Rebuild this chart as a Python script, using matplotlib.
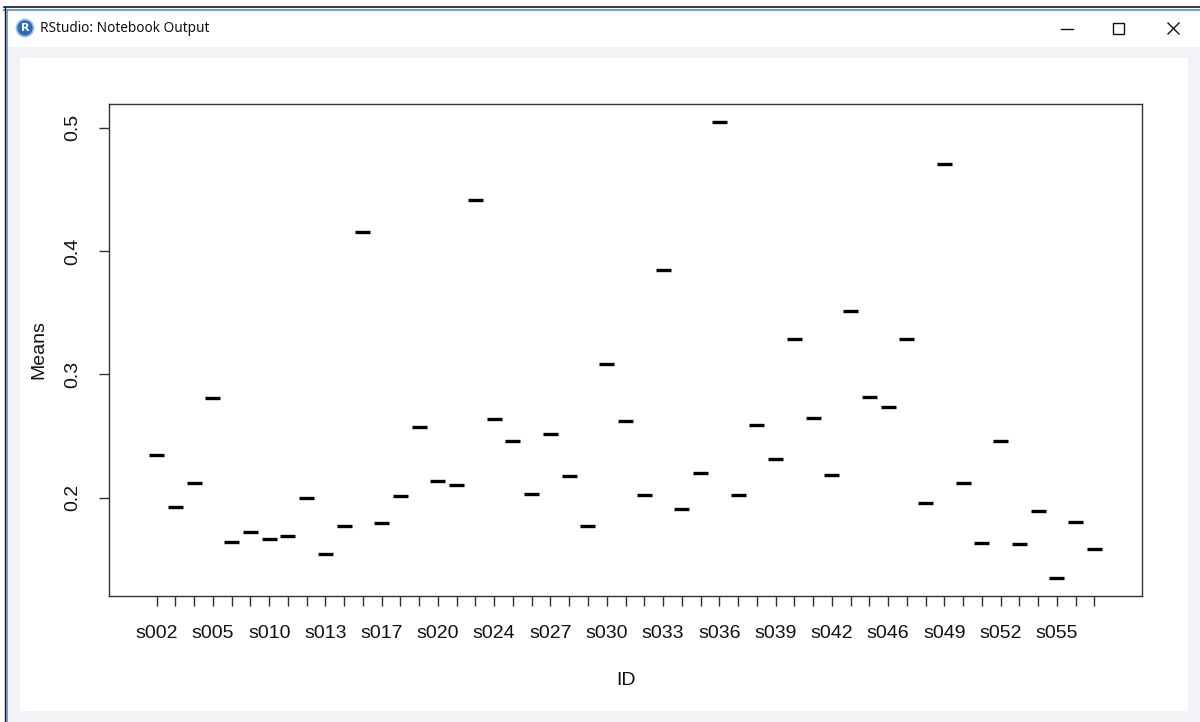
import matplotlib
matplotlib.use("Agg")
import matplotlib.pyplot as plt
from matplotlib.patches import Rectangle, Circle
from matplotlib.lines import Line2D
import numpy as np

# ---- data ----
ids = ["s002", "s003", "s004", "s005", "s006", "s008", "s010", "s011", "s012",
       "s013", "s014", "s016", "s017", "s018", "s019", "s020", "s021", "s023",
       "s024", "s025", "s026", "s027", "s028", "s029", "s030", "s031", "s032",
       "s033", "s034", "s035", "s036", "s037", "s038", "s039", "s040", "s041",
       "s042", "s043", "s045", "s046", "s047", "s048", "s049", "s050", "s051",
       "s052", "s053", "s054", "s055", "s056", "s057"]
means = [0.2349, 0.1922, 0.2119, 0.2805, 0.1643, 0.1724, 0.1662, 0.1689, 0.1995,
         0.1541, 0.1770, 0.4151, 0.1795, 0.2011, 0.2573, 0.2138, 0.2100, 0.4414,
         0.2635, 0.2459, 0.2027, 0.2519, 0.2178, 0.1770, 0.3081, 0.2619, 0.2019,
         0.3849, 0.1905, 0.2197, 0.5043, 0.2019, 0.2592, 0.2314, 0.3286, 0.2646,
         0.2186, 0.3511, 0.2816, 0.2732, 0.3286, 0.1957, 0.4705, 0.2119, 0.1635,
         0.2459, 0.1627, 0.1895, 0.1351, 0.1805, 0.1581]
y_ticks = [0.2, 0.3, 0.4, 0.5]
x_label = "ID"
y_label = "Means"
window_title = "RStudio: Notebook Output"

W, H = 1200, 722
fig = plt.figure(figsize=(W / 100, H / 100), dpi=100, facecolor="white")


def fx(px):
    return px / W


def fy(py):
    return 1 - py / H


def rect(x0, y0, x1, y1, z=-5, **kw):
    fig.add_artist(Rectangle((fx(x0), fy(y1)), fx(x1) - fx(x0), fy(y0) - fy(y1),
                             transform=fig.transFigure, zorder=z, **kw))


def line(xs, ys, **kw):
    fig.add_artist(Line2D([fx(x) for x in xs], [fy(y) for y in ys],
                          transform=fig.transFigure, zorder=-4, **kw))


# window chrome
rect(5, 47, W, H, facecolor="#f2f3f6", edgecolor="none", z=-6)
rect(20, 58, 1188, 711, facecolor="white", edgecolor="none", z=-5)
line([4, W], [7, 7], color="#1a1a1a", lw=1.2)
line([4, W], [10, 10], color="#6f9fd0", lw=1.5)
line([4.5, 4.5], [7, H], color="#1a1a1a", lw=1.0)
line([6.5, 6.5], [10, H], color="#5a8fd0", lw=1.2)

# R icon
fig.add_artist(Circle((25 / 100, (H - 28) / 100), 0.085, transform=fig.dpi_scale_trans,
                      facecolor="#2d6cb8", edgecolor="#9cc0e6", lw=1.2, zorder=-3))
fig.text(fx(25), fy(28), "R", color="white", fontsize=8, fontweight="bold",
         ha="center", va="center", family="DejaVu Sans")
fig.text(fx(40), fy(28), window_title, fontsize=9.8, ha="left", va="center",
         family="Noto Sans", color="#111111")
# window controls
line([1061, 1073], [29, 29], color="#111111", lw=1.0)
rect(1113, 23, 1124, 34, z=-3, facecolor="none", edgecolor="#111111", lw=1.0)
line([1168, 1179], [23, 34], color="#111111", lw=1.0)
line([1168, 1179], [34, 23], color="#111111", lw=1.0)

# ---- plot ----
plt.rcParams["font.family"] = ["Liberation Sans", "DejaVu Sans"]
ax_l, ax_r, ax_t, ax_b = 109, 1142, 104, 596
ax = fig.add_axes([fx(ax_l), fy(ax_b), fx(ax_r) - fx(ax_l), fy(ax_t) - fy(ax_b)])
ax.set_zorder(5)
ax.set_facecolor("white")

x = np.arange(len(means))
ax.hlines(means, x - 0.4, x + 0.4, colors="black", linewidth=2.4, capstyle="butt")

n = len(means)
ax.set_xlim(-0.5 - 0.04 * n, n - 0.5 + 0.04 * n)
rng = max(means) - min(means)
ax.set_ylim(min(means) - 0.04 * rng, max(means) + 0.04 * rng)

ax.set_xticks(x)
ax.set_xticklabels(ids, fontsize=14, color="#111111")
for i, lab in enumerate(ax.get_xticklabels()):
    lab.set_visible(i % 3 == 0)
ax.set_yticks(y_ticks)
ax.set_yticklabels([f"{v:g}" for v in y_ticks], fontsize=14, rotation=90,
                   va="center", color="#111111")

for sp in ax.spines.values():
    sp.set_color("#333333")
    sp.set_linewidth(1.0)
ax.tick_params(axis="both", direction="out", length=7, width=1.0, color="#333333")
ax.tick_params(axis="x", pad=14)
ax.tick_params(axis="y", pad=13)

ax.set_xlabel(x_label, fontsize=14, color="#111111")
ax.xaxis.set_label_coords(0.5, (ax_b - 672) / (ax_b - ax_t))
ax.set_ylabel(y_label, fontsize=14, color="#111111")
ax.yaxis.set_label_coords((47 - ax_l) / (ax_r - ax_l), 0.5)

fig.savefig("out.png", dpi=100, facecolor="white")
